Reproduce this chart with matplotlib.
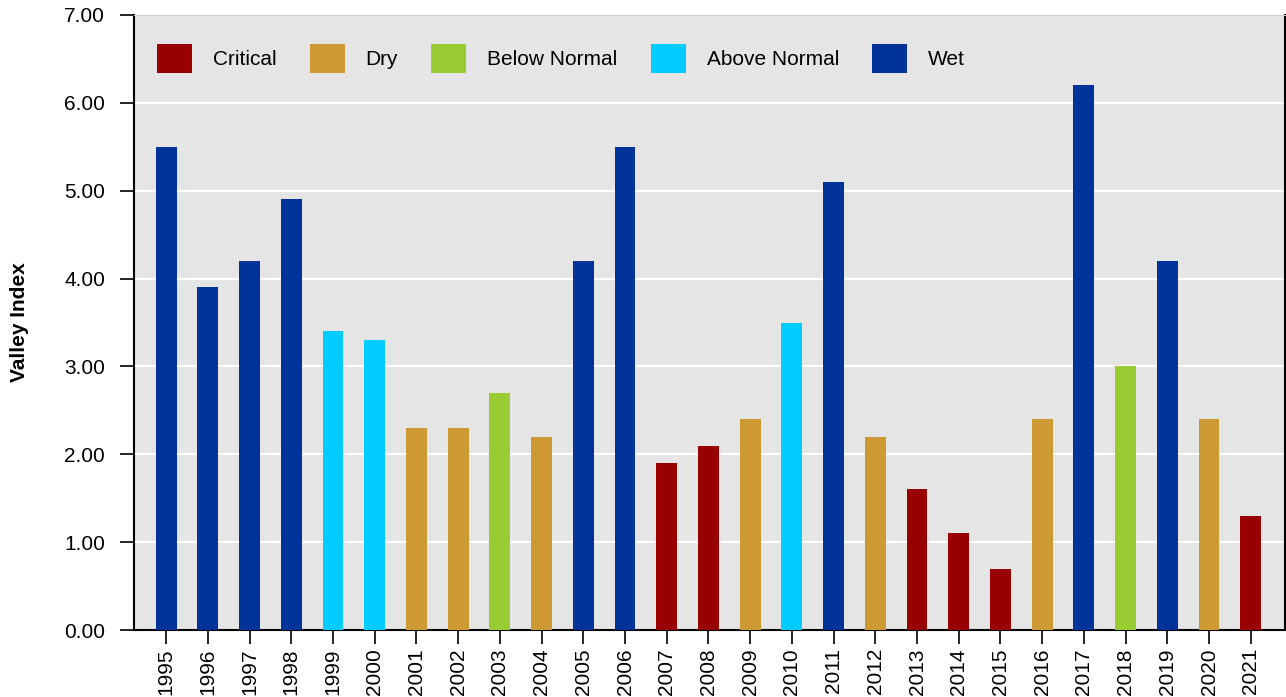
import matplotlib
matplotlib.use("Agg")
import matplotlib.pyplot as plt
from matplotlib.patches import Patch

years = [str(y) for y in range(1995, 2022)]
index_values = [5.5, 3.9, 4.2, 4.9, 3.4, 3.3, 2.3, 2.3, 2.7, 2.2,
                4.2, 5.5, 1.9, 2.1, 2.4, 3.5, 5.1, 2.2, 1.6, 1.1,
                0.7, 2.4, 6.2, 3.0, 4.2, 2.4, 1.3]
year_types = ['Wet', 'Wet', 'Wet', 'Wet', 'Above Normal', 'Above Normal', 'Dry', 'Dry',
              'Below Normal', 'Dry', 'Wet', 'Wet', 'Critical', 'Critical', 'Dry',
              'Above Normal', 'Wet', 'Dry', 'Critical', 'Critical', 'Critical', 'Dry',
              'Wet', 'Below Normal', 'Wet', 'Dry', 'Critical']
type_names = ['Critical', 'Dry', 'Below Normal', 'Above Normal', 'Wet']
type_colors = ['#990000', '#CC9933', '#99CC33', '#00CCFF', '#003399']

plt.rcParams['font.family'] = ['Liberation Sans', 'DejaVu Sans']
plt.rcParams['font.size'] = 15

color_map = dict(zip(type_names, type_colors))

fig = plt.figure(figsize=(12.86, 6.97), dpi=100)
ax = fig.add_axes([0.1042, 0.0961, 0.8950, 0.8824])
ax.set_facecolor('#E5E5E5')

x = list(range(len(years)))
ax.bar(x, index_values, width=0.5, color=[color_map[t] for t in year_types], zorder=3)

ax.set_xlim(-0.77, len(years) - 0.18)
ax.set_ylim(0, 7)
ax.set_yticks([i for i in range(8)])
ax.set_yticklabels([f'{i:.2f}' for i in range(8)])
ax.set_xticks(x)
ax.set_xticklabels(years, rotation=90)
ax.grid(axis='y', color='white', linewidth=1.5, zorder=1)

ax.tick_params(axis='both', direction='out', length=10, width=1.2, colors='black')
ax.tick_params(axis='y', pad=10.8)
ax.tick_params(axis='x', pad=3)
for side in ['left', 'bottom', 'right']:
    ax.spines[side].set_color('black')
    ax.spines[side].set_linewidth(1.5)
ax.spines['top'].set_color('#D0D0D0')

ax.set_ylabel('Valley Index', fontweight='bold')
ax.yaxis.set_label_coords(-0.0912, 0.5)

handles = [Patch(facecolor=c, label=n) for n, c in zip(type_names, type_colors)]
ax.legend(handles=handles, loc='upper left', bbox_to_anchor=(0.02, 0.953), ncol=5,
          frameon=False, borderpad=0, borderaxespad=0, handlelength=1.68,
          handleheight=1.765, handletextpad=1.0, columnspacing=1.6)

fig.savefig('out.png', dpi=100)
plt.close(fig)
